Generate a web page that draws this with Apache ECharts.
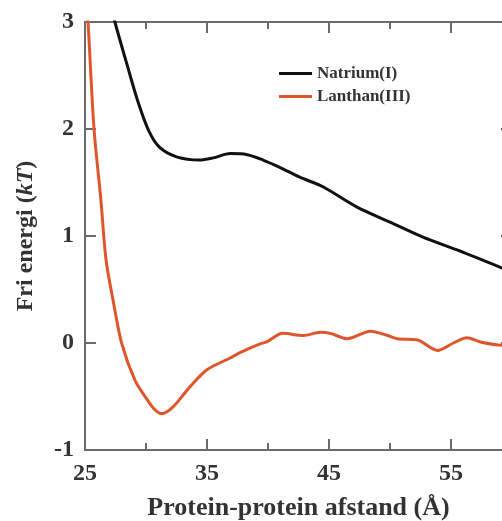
<!DOCTYPE html>
<html>
<head>
<meta charset="utf-8">
<script src="https://cdn.jsdelivr.net/npm/echarts@6/dist/echarts.min.js"></script>
<style>
  html, body { margin: 0; padding: 0; background: #fff; }
  #chart { width: 502px; height: 521px; }
</style>
</head>
<body>
<div id="chart"></div>
<script>
// Natrium(I) curve
const natriumDist = [27.3, 27.45, 28.5, 29.3, 30.2, 31.1, 32.5, 34.4, 35.5, 36.9, 38.3, 39.6, 41.0, 42.6, 44.5, 47.3, 50.0, 52.7, 55.5, 59.2, 60]
const natriumEnergy = [3.08, 3.0, 2.58, 2.27, 1.99, 1.83, 1.74, 1.71, 1.73, 1.77, 1.76, 1.71, 1.64, 1.55, 1.46, 1.27, 1.13, 0.99, 0.87, 0.7, 0.66]

// Lanthan(III) curve
const lanthanDist = [25.15, 25.25, 25.74, 26.3, 26.72, 27.3, 28.0, 29.1, 30.1, 30.7, 31.3, 32.2, 33.6, 35.0, 36.9, 37.7, 39.3, 39.9, 41.2, 42.9, 44.3, 45.1, 46.5, 48.4, 49.8, 50.6, 52.2, 53.9, 55.2, 56.3, 57.4, 59.2, 60]
const lanthanEnergy = [3.15, 3.0, 2.0, 1.34, 0.78, 0.4, 0.0, -0.35, -0.53, -0.62, -0.66, -0.6, -0.41, -0.25, -0.14, -0.09, -0.01, 0.01, 0.09, 0.07, 0.1, 0.09, 0.04, 0.11, 0.07, 0.04, 0.03, -0.07, 0.0, 0.05, 0.01, -0.02, -0.02]

const xTicks = [25, 35, 45, 55]

const chart = echarts.init(document.getElementById('chart'))

const serif = 'Liberation Serif'
const axisGray = '#6a6a6a'

const baseX = {
  type: 'value',
  min: 25,
  max: 60,
  interval: 10,
  axisLine: { show: true, onZero: false, lineStyle: { color: axisGray, width: 2 } },
  axisTick: { show: true, inside: true, length: 11, lineStyle: { color: axisGray, width: 2 } },
  minorTick: { show: true, splitNumber: 2, length: 7, lineStyle: { color: axisGray, width: 2 } },
  splitLine: { show: false },
  minorSplitLine: { show: false }
}

const baseY = {
  type: 'value',
  min: -1,
  max: 3,
  interval: 1,
  axisLine: { show: true, onZero: false, lineStyle: { color: axisGray, width: 2 } },
  axisTick: { show: true, inside: true, length: 11, lineStyle: { color: axisGray, width: 2 } },
  splitLine: { show: false }
}

function toPairs(xs, ys) {
  return xs.map((x, i) => [x, ys[i]])
}

const option = {
  backgroundColor: '#ffffff',
  animation: false,
  grid: { left: 85, top: 22, width: 427, height: 428, containLabel: false, outerBoundsMode: 'none' },
  legend: {
    orient: 'vertical',
    left: 274,
    top: 60,
    itemWidth: 33,
    itemHeight: 3,
    itemGap: 6,
    icon: 'rect',
    textStyle: { fontFamily: serif, fontWeight: 'bold', fontSize: 17, color: '#333' },
    data: ['Natrium(I)', 'Lanthan(III)']
  },
  xAxis: [
    Object.assign({}, baseX, {
      position: 'bottom',
      name: 'Protein-protein afstand (Å)',
      nameLocation: 'middle',
      nameGap: 45,
      nameTextStyle: { fontFamily: serif, fontWeight: 'bold', fontSize: 26, color: '#333' },
      axisLabel: {
        margin: 12,
        fontFamily: serif, fontWeight: 'bold', fontSize: 24, color: '#333',
        formatter: (v) => (xTicks.indexOf(v) >= 0 ? String(v) : '')
      }
    }),
    Object.assign({}, baseX, { position: 'top', axisLabel: { show: false } })
  ],
  yAxis: [
    Object.assign({}, baseY, {
      position: 'left',
      name: 'Fri energi ({i|kT})',
      nameLocation: 'middle',
      nameGap: 47,
      nameTextStyle: {
        fontFamily: serif, fontWeight: 'bold', fontSize: 24, color: '#333',
        rich: { i: { fontFamily: serif, fontWeight: 'bold', fontStyle: 'italic', fontSize: 24, color: '#333' } }
      },
      axisLabel: { margin: 11, fontFamily: serif, fontWeight: 'bold', fontSize: 24, color: '#333' }
    }),
    Object.assign({}, baseY, { position: 'right', axisLabel: { show: false } })
  ],
  series: [
    {
      name: 'Natrium(I)',
      type: 'line',
      smooth: 0.3,
      showSymbol: false,
      clip: true,
      color: '#111111',
      lineStyle: { color: '#111111', width: 3 },
      data: toPairs(natriumDist, natriumEnergy)
    },
    {
      name: 'Lanthan(III)',
      type: 'line',
      smooth: 0.3,
      showSymbol: false,
      clip: true,
      color: '#e0562c',
      lineStyle: { color: '#e0562c', width: 3 },
      data: toPairs(lanthanDist, lanthanEnergy)
    }
  ]
}

chart.setOption(option)
</script>
</body>
</html>
